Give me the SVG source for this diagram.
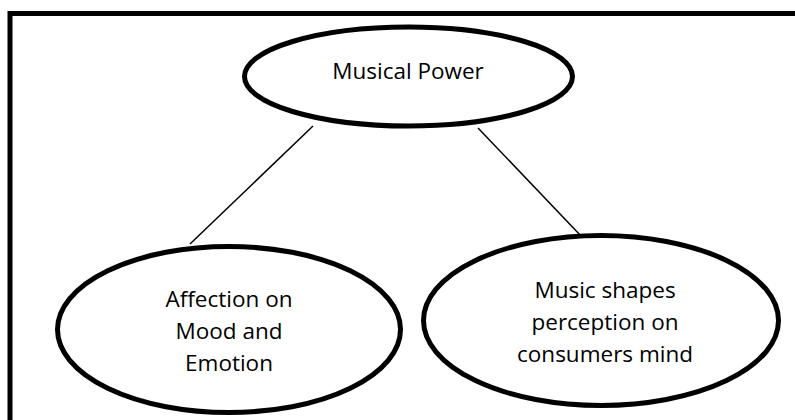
<svg xmlns="http://www.w3.org/2000/svg" width="795" height="420" viewBox="0 0 795 420">
<style>
.node{fill:#fff;stroke:#000;stroke-width:5}
.lbl{font-family:"Open Sans","Liberation Sans",sans-serif;font-size:22.5px;fill:#000;text-anchor:middle}
.conn{stroke:#000;stroke-width:1.5;fill:none}
</style>
<rect x="0" y="0" width="795" height="420" fill="#fff"/>
<rect x="10" y="13.5" width="800" height="430" fill="none" stroke="#000" stroke-width="5"/>
<g id="connectors">
<line class="conn" x1="313" y1="126" x2="190" y2="244"/>
<line class="conn" x1="478" y1="128" x2="582" y2="237"/>
</g>
<g id="node-musical-power">
<ellipse class="node" cx="408.5" cy="76.5" rx="164" ry="49.5"/>
<text class="lbl" x="408" y="79">Musical Power</text>
</g>
<g id="node-affection">
<ellipse class="node" cx="229" cy="329.5" rx="171.5" ry="83"/>
<text class="lbl" x="229" y="307">Affection on</text>
<text class="lbl" x="229" y="339">Mood and</text>
<text class="lbl" x="229" y="371">Emotion</text>
</g>
<g id="node-music-shapes">
<ellipse class="node" cx="601" cy="320.5" rx="177.5" ry="85"/>
<text class="lbl" x="605" y="298">Music shapes</text>
<text class="lbl" x="605" y="330">perception on</text>
<text class="lbl" x="605" y="362">consumers mind</text>
</g>
</svg>
